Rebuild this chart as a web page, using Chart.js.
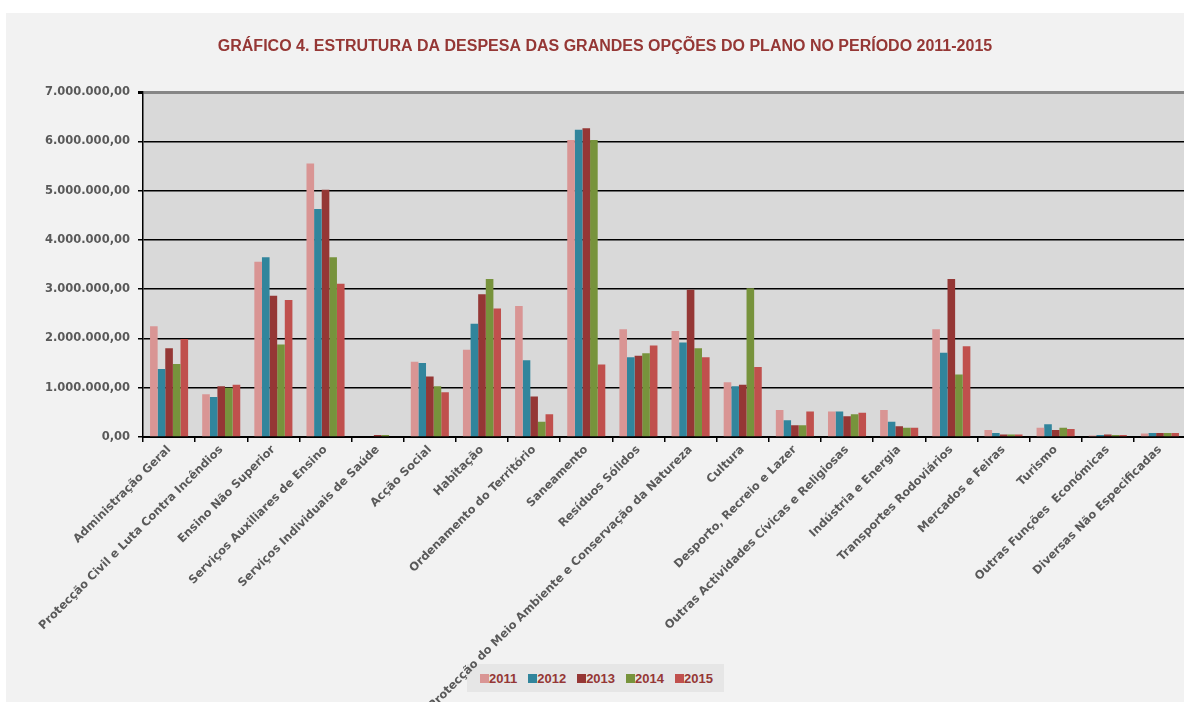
<!DOCTYPE html>
<html lang="pt">
<head>
    <meta charset="UTF-8">
    <title>Gráfico 4</title>
    <script src="https://cdn.jsdelivr.net/npm/chart.js"></script>
    <style>
        * { margin: 0; padding: 0; box-sizing: border-box; }
        body { width: 1184px; height: 702px; overflow: hidden; background: #fff; position: relative; font-family: "Liberation Sans", Arial, sans-serif; }
        /* painel cinzento do gráfico (mais largo que a janela, como no original recortado) */
        .painel { position: absolute; left: 6px; top: 13px; width: 1198px; height: 689px; background: #f2f2f2; }
        .painel canvas { position: absolute; left: 0; top: 0; }
        /* legenda fica por baixo do canvas, para o rótulo comprido passar por cima */
        .legenda { position: absolute; left: 461px; top: 651px; width: 257px; height: 28px; background: #e6e6e6;
                   display: flex; align-items: center; padding-left: 13px; }
        .legenda span { display: flex; align-items: center; margin-right: 11px; font: bold 13px "Liberation Sans", Arial, sans-serif; color: #953735; }
        .legenda i { display: inline-block; width: 9px; height: 9px; }
    </style>
</head>
<body>
    <div class="painel">
        <div class="legenda" id="legenda"></div>
        <canvas id="grafico" width="1198" height="689"></canvas>
    </div>

    <script>
        // categorias (Grandes Opções do Plano)
        const categorias = [
            'Administração Geral',
            'Protecção Civil e Luta Contra Incêndios',
            'Ensino Não Superior',
            'Serviços Auxiliares de Ensino',
            'Serviços Individuais de Saúde',
            'Acção Social',
            'Habitação',
            'Ordenamento do Território',
            'Saneamento',
            'Resíduos Sólidos',
            'Protecção do Meio Ambiente e Conservação da Natureza',
            'Cultura',
            'Desporto, Recreio e Lazer',
            'Outras Actividades Cívicas e Religiosas',
            'Indústria e Energia',
            'Transportes Rodoviários',
            'Mercados e Feiras',
            'Turismo',
            'Outras Funções  Económicas',
            'Diversas Não Especificadas'
        ];

        const anos = ['2011', '2012', '2013', '2014', '2015'];
        const cores = ['#d99594', '#31859c', '#953735', '#77933c', '#c0504d'];

        // valores estimados a partir da imagem (euros)
        const valores2011 = [2250000, 870000, 3560000, 5550000, 0, 1530000, 1770000, 2660000, 6030000, 2190000, 2150000, 1110000, 550000, 520000, 550000, 2190000, 140000, 190000, 30000, 70000];
        const valores2012 = [1380000, 810000, 3650000, 4630000, 0, 1500000, 2300000, 1560000, 6240000, 1620000, 1920000, 1030000, 340000, 520000, 310000, 1710000, 80000, 260000, 40000, 80000];
        const valores2013 = [1800000, 1030000, 2870000, 5020000, 40000, 1230000, 2900000, 820000, 6270000, 1650000, 2990000, 1060000, 240000, 420000, 220000, 3210000, 50000, 140000, 50000, 80000];
        const valores2014 = [1480000, 1000000, 1880000, 3650000, 40000, 1030000, 3210000, 310000, 6030000, 1700000, 1800000, 3020000, 240000, 460000, 190000, 1270000, 50000, 190000, 40000, 80000];
        const valores2015 = [1990000, 1060000, 2780000, 3110000, 0, 910000, 2610000, 460000, 1470000, 1860000, 1620000, 1420000, 520000, 490000, 190000, 1840000, 50000, 160000, 40000, 80000];

        const series = [valores2011, valores2012, valores2013, valores2014, valores2015];

        // formato 7.000.000,00
        function formatar(v) {
            return String(Math.round(v)).replace(/\B(?=(\d{3})+(?!\d))/g, '.') + ',00';
        }

        // fundo da área do gráfico
        const fundo = {
            id: 'fundo',
            beforeDraw(chart) {
                const a = chart.chartArea;
                chart.ctx.save();
                chart.ctx.fillStyle = '#d9d9d9';
                chart.ctx.fillRect(a.left, a.top, a.right - a.left, a.bottom - a.top);
                chart.ctx.restore();
            }
        };

        new Chart(document.getElementById('grafico'), {
            type: 'bar',
            data: {
                labels: categorias,
                datasets: anos.map((ano, i) => ({
                    label: ano,
                    data: series[i],
                    backgroundColor: cores[i],
                    borderWidth: 0,
                    categoryPercentage: 0.73,
                    barPercentage: 1.0
                }))
            },
            plugins: [fundo],
            options: {
                responsive: false,
                animation: false,
                layout: { padding: { top: 0, right: 18, bottom: 0, left: 18 } },
                plugins: {
                    legend: { display: false },
                    tooltip: { enabled: false },
                    title: {
                        display: true,
                        text: 'GRÁFICO 4. ESTRUTURA DA DESPESA DAS GRANDES OPÇÕES DO PLANO NO PERÍODO 2011-2015',
                        color: '#953735',
                        font: { family: '"Liberation Sans Narrow", "Arial Narrow", "Liberation Sans", sans-serif', size: 16, weight: 'bold' },
                        padding: { top: 24, bottom: 36 }
                    }
                },
                scales: {
                    x: {
                        grid: { drawOnChartArea: false, drawTicks: true, tickLength: 5, color: '#000', lineWidth: 1.5 },
                        border: { color: '#000', width: 2 },
                        ticks: {
                            autoSkip: false,
                            maxRotation: 45,
                            minRotation: 45,
                            padding: 1,
                            color: '#595959',
                            font: { family: '"DejaVu Sans", Verdana, sans-serif', size: 11.5, weight: 'bold' }
                        },
                        afterFit(scale) { scale.height = 265; }
                    },
                    y: {
                        min: 0,
                        max: 7000000,
                        grid: {
                            color: ctx => ctx.tick && ctx.tick.value === 7000000 ? '#868686' : '#000',
                            lineWidth: ctx => ctx.tick && ctx.tick.value === 7000000 ? 3 : 1.5,
                            tickColor: '#000',
                            tickLength: 5
                        },
                        border: { color: '#000', width: 1.5 },
                        ticks: {
                            stepSize: 1000000,
                            padding: 8,
                            color: '#595959',
                            font: { family: '"DejaVu Sans", Verdana, sans-serif', size: 11.5, weight: 'bold' },
                            callback: v => formatar(v)
                        },
                        afterFit(scale) { scale.width = 119; }
                    }
                }
            }
        });

        // legenda
        const legenda = document.getElementById('legenda');
        anos.forEach((ano, i) => {
            const s = document.createElement('span');
            s.innerHTML = '<i style="background:' + cores[i] + '"></i>' + ano;
            legenda.appendChild(s);
        });
    </script>
</body>
</html>
